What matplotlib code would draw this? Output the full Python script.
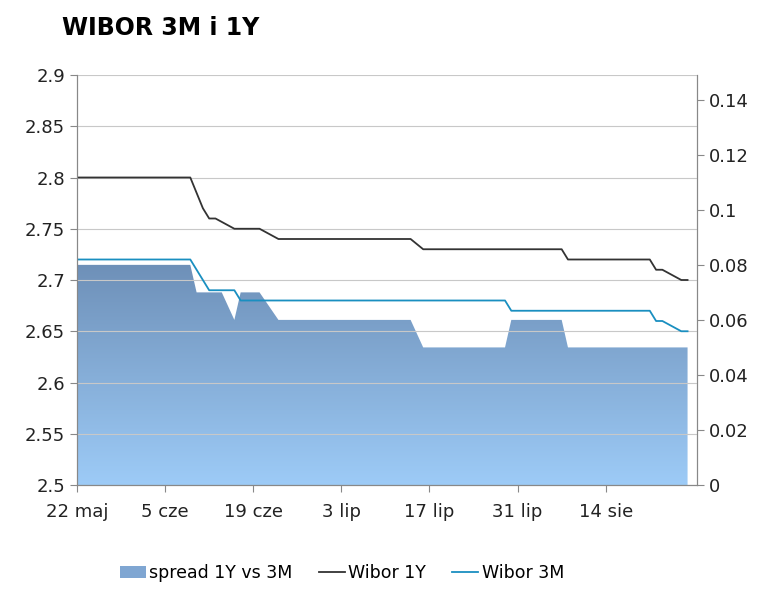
import numpy as np
import pandas as pd
import matplotlib
matplotlib.use("Agg")
import matplotlib.pyplot as plt
from matplotlib.patches import Polygon, Patch
from matplotlib.colors import LinearSegmentedColormap

start = pd.Timestamp("2012-05-22")
# (day offset, value)
wibor_1y_days = [0, 18, 19, 20, 21, 22, 25, 29, 32, 53, 55, 77, 78, 91, 92, 93, 96, 97]
wibor_1y_vals = [2.80, 2.80, 2.785, 2.77, 2.76, 2.76, 2.75, 2.75, 2.74, 2.74, 2.73, 2.73, 2.72, 2.72, 2.71, 2.71, 2.70, 2.70]
wibor_3m_days = [0, 18, 20, 21, 25, 26, 68, 69, 91, 92, 93, 96, 97]
wibor_3m_vals = [2.72, 2.72, 2.70, 2.69, 2.69, 2.68, 2.68, 2.67, 2.67, 2.66, 2.66, 2.65, 2.65]
spread_days = [0, 18, 19, 23, 25, 26, 29, 32, 53, 55, 68, 69, 77, 78, 97]
spread_vals = [0.08, 0.08, 0.07, 0.07, 0.06, 0.07, 0.07, 0.06, 0.06, 0.05, 0.05, 0.06, 0.06, 0.05, 0.05]
tick_days = [0, 14, 28, 42, 56, 70, 84]
tick_labels = ["22 maj", "5 cze", "19 cze", "3 lip", "17 lip", "31 lip", "14 sie"]

fig = plt.figure(figsize=(7.77, 5.91), dpi=100)
ax = fig.add_axes([77 / 777, 1 - 485 / 591, 620 / 777, 410 / 591])
ax2 = ax.twinx()

xmax = 98.5
ax2.set_ylim(0, 0.149)
ax2.set_xlim(0, xmax)
# gradient-filled spread area
cmap = LinearSegmentedColormap.from_list("g", ["#9dcbf7", "#6e90b8"])
grad = np.linspace(0, 1, 256).reshape(-1, 1)
im = ax2.imshow(grad, cmap=cmap, origin="lower", aspect="auto",
                extent=[0, xmax, 0, max(spread_vals)], zorder=1)
poly = Polygon(list(zip(spread_days, spread_vals)) + [(spread_days[-1], 0), (0, 0)],
               closed=True, transform=ax2.transData, facecolor="none", edgecolor="none")
ax2.add_patch(poly)
im.set_clip_path(poly)

ax.set_zorder(ax2.get_zorder() + 1)
ax.patch.set_visible(False)
ax.plot(wibor_1y_days, wibor_1y_vals, color="#333333", lw=1.3)
ax.plot(wibor_3m_days, wibor_3m_vals, color="#1a8fc0", lw=1.3)
ax.set_ylim(2.5, 2.9)
ax.set_xlim(0, xmax)
ax.set_yticks(np.arange(2.5, 2.91, 0.05))
ax.set_yticklabels(["2.5", "2.55", "2.6", "2.65", "2.7", "2.75", "2.8", "2.85", "2.9"])
ax2.set_yticks(np.arange(0, 0.141, 0.02))
ax2.set_yticklabels(["0", "0.02", "0.04", "0.06", "0.08", "0.1", "0.12", "0.14"])
ax.set_xticks(tick_days)
ax.set_xticklabels(tick_labels)
ax.grid(axis="y", color="#c8c8c8", lw=0.8)
ax.set_axisbelow(True)

for a in (ax, ax2):
    for s in ("top",):
        a.spines[s].set_visible(False)
    for s in ("left", "right", "bottom"):
        a.spines[s].set_color("#888888")
    a.tick_params(labelsize=13, color="#888888", length=5, labelcolor="#222222")
ax.tick_params(axis="x", pad=8)

fig.text(62 / 777, 1 - 28 / 591, "WIBOR 3M i 1Y", fontsize=17, fontweight="bold", va="center")

handles = [Patch(facecolor="#7fa6d2", edgecolor="none"),
           plt.Line2D([], [], color="#333333", lw=1.3),
           plt.Line2D([], [], color="#1a8fc0", lw=1.3)]
fig.legend(handles, ["spread 1Y vs 3M", "Wibor 1Y", "Wibor 3M"], loc="center",
           bbox_to_anchor=(0.44, 1 - 573 / 591), ncol=3, frameon=False, fontsize=12.5,
           handlelength=1.5, handletextpad=0.2, columnspacing=1.5)

fig.savefig("out.png", dpi=100)
